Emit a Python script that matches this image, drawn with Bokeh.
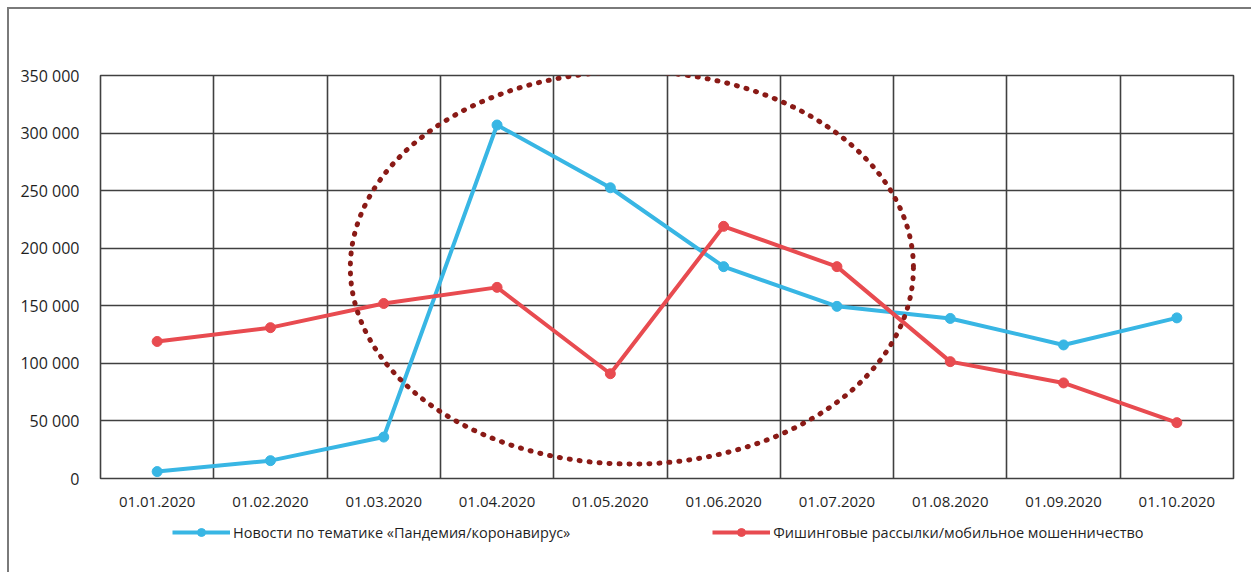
from bokeh.plotting import figure
from bokeh.models import (FixedTicker, Range1d, Legend, LegendItem)
from bokeh.layouts import column
from bokeh.embed import file_html
from bokeh.resources import INLINE

# ---- data ----
dates = ["01.01.2020", "01.02.2020", "01.03.2020", "01.04.2020", "01.05.2020",
         "01.06.2020", "01.07.2020", "01.08.2020", "01.09.2020", "01.10.2020"]
news = [6000, 15500, 36000, 307000, 252500, 184000, 149500, 139000, 116000, 139500]
phishing = [119000, 131000, 152000, 166000, 91000, 219000, 184000, 101500, 83000, 48500]
y_ticks = [0, 50000, 100000, 150000, 200000, 250000, 300000, 350000]
y_tick_labels = ["0", "50 000", "100 000", "150 000", "200 000", "250 000", "300 000", "350 000"]
news_label = "Новости по тематике «Пандемия/коронавирус»"
phishing_label = "Фишинговые рассылки/мобильное мошенничество"

# highlighted region (ellipse): centre in category units / values, extents
ell_center_x = 4.69
ell_center_y = 183000
ell_width = 4.97
ell_height = 341000

FONT = "Open Sans"
BLUE = "#38b6e4"
RED = "#e84b50"
GRID = "#404040"
TEXT = "#1f1f1f"

xs = [i + 0.5 for i in range(len(dates))]

p = figure(frame_width=1133, frame_height=403, output_backend="svg", toolbar_location=None,
           x_range=Range1d(0, len(dates)), y_range=Range1d(0, 350000),
           min_border_left=100, min_border_right=18, min_border_top=75, min_border_bottom=40)
p.background_fill_color = "white"
p.border_fill_alpha = 0
p.outline_line_color = GRID
p.outline_line_width = 1.6

# axes
p.xaxis.ticker = FixedTicker(ticks=xs)
p.xaxis.major_label_overrides = {x: d for x, d in zip(xs, dates)}
p.yaxis.ticker = FixedTicker(ticks=y_ticks)
p.yaxis.major_label_overrides = {t: l for t, l in zip(y_ticks, y_tick_labels)}
for ax in (p.xaxis, p.yaxis):
    ax.axis_line_color = None
    ax.major_tick_line_color = None
    ax.minor_tick_line_color = None
    ax.major_label_text_font = FONT
    ax.major_label_text_font_size = "15px"
    ax.major_label_text_color = TEXT
p.yaxis.major_label_text_font_size = "16px"
p.yaxis.major_label_standoff = 15
p.xaxis.major_label_standoff = 12

# grid
p.xgrid.ticker = FixedTicker(ticks=list(range(len(dates) + 1)))
p.ygrid.ticker = FixedTicker(ticks=y_ticks)
for g in (p.xgrid, p.ygrid):
    g.grid_line_color = GRID
    g.grid_line_width = 1.6

# series
p.line(xs, news, line_color=BLUE, line_width=4)
p.scatter(xs, news, size=10, fill_color=BLUE, line_color=BLUE)
p.line(xs, phishing, line_color=RED, line_width=4)
p.scatter(xs, phishing, size=10, fill_color=RED, line_color=RED)

# dotted ellipse highlight
p.ellipse(x=[ell_center_x], y=[ell_center_y], width=[ell_width], height=[ell_height],
          fill_color=None, line_color="#8a1a16", line_width=5, line_dash="1 9",
          line_cap="round")

# ---- legend strip (separate figure so the legend is not clipped) ----
lg = figure(width=1251, height=54, output_backend="svg", toolbar_location=None,
            x_axis_location=None, y_axis_location=None,
            x_range=Range1d(0, 1), y_range=Range1d(0, 1),
            min_border_left=0, min_border_right=0, min_border_top=0, min_border_bottom=0)
lg.background_fill_alpha = 0
lg.border_fill_alpha = 0
lg.outline_line_color = None
lg.xgrid.visible = False
lg.ygrid.visible = False
# legend key renderers: placed outside the strip's visible range, only their keys show
off = [-5, -4]
kbl = lg.line(x=off, y=off, line_color=BLUE, line_width=4)
kbs = lg.scatter(x=off, y=off, size=10, fill_color=BLUE, line_color=BLUE)
krl = lg.line(x=off, y=off, line_color=RED, line_width=4)
krs = lg.scatter(x=off, y=off, size=10, fill_color=RED, line_color=RED)

legend = Legend(items=[LegendItem(label=news_label, renderers=[kbl, kbs]),
                       LegendItem(label=phishing_label, renderers=[krl, krs])],
                orientation="horizontal", location=(72, 30),
                glyph_width=58, glyph_height=20, label_standoff=3, spacing=142,
                label_text_font=FONT, label_text_font_size="14.5px",
                label_text_color=TEXT, border_line_color=None,
                background_fill_alpha=0, padding=0, margin=0)
lg.add_layout(legend)

layout = column(p, lg, spacing=0)
# outer picture frame (thin grey line at top and left, as in the scanned figure)
layout.styles = {
    "background": "linear-gradient(#7a7a7a,#7a7a7a) 7px 7px / 2px 100% no-repeat, "
                  "linear-gradient(#7a7a7a,#7a7a7a) 7px 7px / 100% 2px no-repeat, white"
}

open("out.html", "w").write(file_html(layout, INLINE))
